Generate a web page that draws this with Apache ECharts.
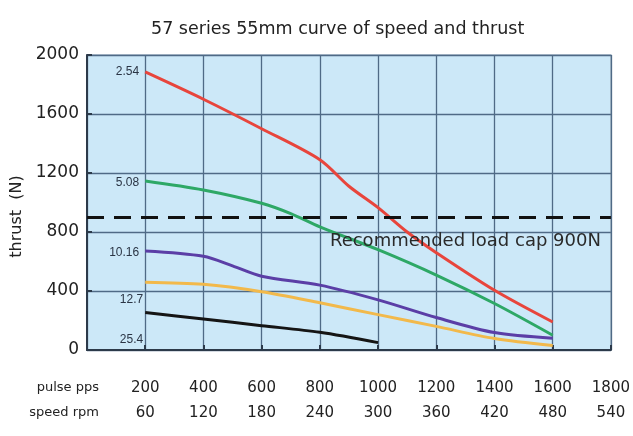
<!DOCTYPE html>
<html>
<head>
<meta charset="utf-8">
<script src="https://cdn.jsdelivr.net/npm/echarts@6/dist/echarts.min.js"></script>
<style>
  html, body { margin: 0; padding: 0; background: #fff; }
  #chart { width: 633px; height: 436px; }
</style>
</head>
<body>
<div id="chart"></div>
<script>
// Thrust (N) against pulse rate (pps) for each lead-screw pitch
const pitchNames = ['2.54', '5.08', '10.16', '12.7', '25.4'];
const pitchColors = ['#e8453c', '#2ea866', '#5b3ea6', '#f2b94b', '#151515'];

const ppsRed = [200, 400, 600, 800, 900, 1000, 1100, 1200, 1400, 1600];
const thrustRed = [1885, 1700, 1500, 1290, 1110, 965, 800, 660, 405, 190];

const ppsGreen = [200, 400, 600, 700, 800, 1000, 1200, 1400, 1600];
const thrustGreen = [1146, 1085, 995, 925, 835, 680, 508, 315, 100];

const ppsPurple = [200, 400, 500, 600, 800, 1000, 1200, 1400, 1600];
const thrustPurple = [671, 635, 570, 500, 440, 340, 220, 118, 80];

const ppsYellow = [200, 400, 600, 800, 1000, 1200, 1400, 1600];
const thrustYellow = [460, 445, 395, 320, 240, 160, 78, 30];

const ppsBlack = [200, 400, 600, 800, 1000];
const thrustBlack = [255, 210, 165, 120, 50];

const loadCap = 900;
const pulseTicks = [0, 200, 400, 600, 800, 1000, 1200, 1400, 1600, 1800];
const rpmTicks = [0, 60, 120, 180, 240, 300, 360, 420, 480, 540];

const seriesX = [ppsRed, ppsGreen, ppsPurple, ppsYellow, ppsBlack];
const seriesY = [thrustRed, thrustGreen, thrustPurple, thrustYellow, thrustBlack];
// where each pitch tag sits relative to the first point of its curve
const tagOffsets = [[-2, 0], [-2, 2], [-2, 2], [2, 18], [2, 27]];

const FONT = 'DejaVu Sans';

const series = pitchNames.map((name, i) => ({
  name: name,
  type: 'line',
  smooth: 0.3,
  symbol: 'none',
  lineStyle: { width: 3, color: pitchColors[i] },
  itemStyle: { color: pitchColors[i] },
  z: 3 + i,
  data: seriesX[i].map((x, j) => {
    const item = { value: [x, seriesY[i][j]] };
    if (j === 0) {
      item.symbol = 'circle';
      item.symbolSize = 0.1;
      item.label = {
        show: true,
        position: 'left',
        distance: 4,
        offset: tagOffsets[i],
        formatter: name,
        color: '#2a3444',
        fontFamily: 'Liberation Sans Narrow, Liberation Sans',
        fontSize: 12,
        letterSpacing: -0.5
      };
    }
    return item;
  })
}));

// recommended load limit, dashed across the whole plot
series.push({
  type: 'line',
  data: [],
  markLine: {
    silent: true,
    symbol: ['none', 'none'],
    lineStyle: { type: [17, 10], width: 3, color: '#111' },
    label: {
      show: true,
      position: 'insideEndBottom',
      formatter: 'Recommended load cap 900N',
      color: '#2a2a2a',
      fontFamily: FONT,
      fontSize: 18,
      distance: [10, 15]
    },
    data: [{ yAxis: loadCap }]
  },
  z: 10
});

const hiddenAxisBits = {
  axisLine: { show: false },
  axisTick: { show: false },
  splitLine: { show: false }
};

const plain = v => String(v);
const plainNoZero = v => (v === 0 ? '' : String(v));

const chart = echarts.init(document.getElementById('chart'), null, { renderer: 'canvas' });
chart.setOption({
  backgroundColor: '#ffffff',
  animation: false,
  title: {
    text: '57 series 55mm curve of speed and thrust',
    left: 146,
    top: 15,
    textStyle: { fontFamily: FONT, fontSize: 17.5, fontWeight: 'normal', color: '#222' }
  },
  grid: {
    left: 87, right: 21, top: 55, bottom: 86,
    show: true,
    backgroundColor: '#cce8f8',
    borderColor: '#9fb3c4',
    borderWidth: 1.5
  },
  xAxis: [
    {
      type: 'value',
      min: pulseTicks[0],
      max: pulseTicks[pulseTicks.length - 1],
      interval: 200,
      position: 'bottom',
      axisLine: { show: true, lineStyle: { color: '#2c3a4a', width: 2 } },
      axisTick: { show: true, inside: true, length: 5, lineStyle: { color: '#2c3a4a', width: 2 } },
      axisLabel: { show: false },
      splitLine: { show: true, lineStyle: { color: '#4f6a86', width: 1.3 } }
    },
    Object.assign({
      type: 'value',
      min: pulseTicks[0],
      max: pulseTicks[pulseTicks.length - 1],
      interval: 200,
      position: 'bottom',
      offset: 38,
      name: 'pulse pps',
      nameLocation: 'start',
      nameGap: -12,
      nameTextStyle: { fontFamily: FONT, fontSize: 13, color: '#222', verticalAlign: 'middle' },
      axisLabel: {
        margin: 0,
        verticalAlign: 'middle',
        fontFamily: FONT,
        fontSize: 15,
        color: '#222',
        formatter: plainNoZero
      }
    }, hiddenAxisBits),
    Object.assign({
      type: 'value',
      min: rpmTicks[0],
      max: rpmTicks[rpmTicks.length - 1],
      interval: 60,
      position: 'bottom',
      offset: 63,
      name: 'speed rpm',
      nameLocation: 'start',
      nameGap: -12,
      nameTextStyle: { fontFamily: FONT, fontSize: 13, color: '#222', verticalAlign: 'middle' },
      axisLabel: {
        margin: 0,
        verticalAlign: 'middle',
        fontFamily: FONT,
        fontSize: 15,
        color: '#222',
        formatter: plainNoZero
      }
    }, hiddenAxisBits)
  ],
  yAxis: {
    type: 'value',
    min: 0,
    max: 2000,
    interval: 400,
    name: 'thrust  (N)',
    nameLocation: 'middle',
    nameGap: 33,
    nameRotate: 90,
    nameTextStyle: { fontFamily: FONT, fontSize: 16, color: '#222', padding: [0, 28, 0, 0] },
    axisLine: { show: true, lineStyle: { color: '#2c3a4a', width: 2 } },
    axisTick: { show: true, inside: true, length: 5, lineStyle: { color: '#2c3a4a', width: 2 } },
    axisLabel: { fontFamily: FONT, fontSize: 17, color: '#222', margin: 8, formatter: plain },
    splitLine: { show: true, lineStyle: { color: '#4f6a86', width: 1.3 } }
  },
  series: series
});
</script>
</body>
</html>
